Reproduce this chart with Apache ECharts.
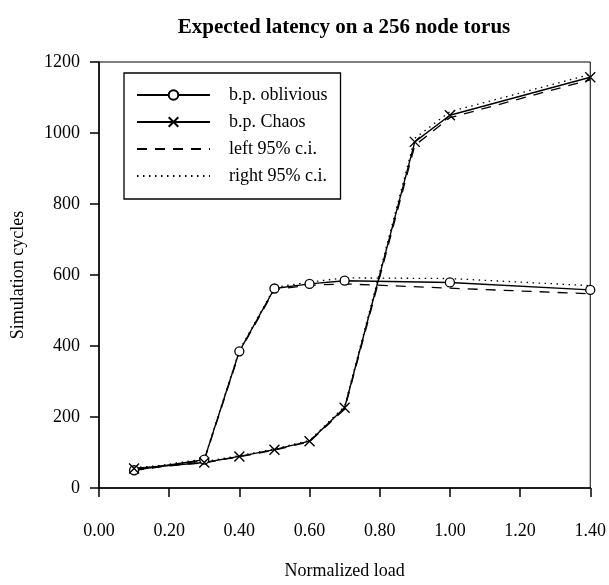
<!DOCTYPE html>
<html>
<head>
<meta charset="utf-8">
<script src="https://cdn.jsdelivr.net/npm/echarts@6/dist/echarts.min.js"></script>
<style>html,body{margin:0;padding:0;background:#fff}#c{width:609px;height:585px}</style>
</head>
<body>
<div id="c"></div>
<script>
var xOblivious = [0.1, 0.3, 0.4, 0.5, 0.6, 0.7, 1.0, 1.4];
var oblivious   = [50, 80, 385, 562, 575, 584, 579, 558];
var obliviousLo = [49, 78, 382, 559, 571, 575, 563, 547];
var obliviousHi = [52, 82, 388, 565, 580, 592, 590, 570];

var xChaos = [0.1, 0.3, 0.4, 0.5, 0.6, 0.7, 0.9, 1.0, 1.4];
var chaos   = [55, 72, 89, 108, 132, 226, 975, 1050, 1157];
var chaosLo = [54, 71, 88, 107, 130, 222, 965, 1043, 1150];
var chaosHi = [57, 74, 91, 110, 134, 230, 985, 1060, 1165];

var seriesNames = ['b.p. oblivious', 'b.p. Chaos', 'left 95% c.i.', 'right 95% c.i.'];
var titleText = 'Expected latency on a 256 node torus';
var xName = 'Normalized load';
var yName = 'Simulation cycles';

function pairs(xs, ys) { return xs.map(function (x, i) { return [x, ys[i]]; }); }

var FONT = "'Liberation Serif', 'Times New Roman', serif";
var chart = echarts.init(document.getElementById('c'), null, {renderer: 'canvas'});

var dashed = {color: '#000', width: 1.3, type: [10, 8]};
var dotted = {color: '#000', width: 1.3, type: [1.5, 4.5]};
var solid = {color: '#000', width: 1.4};
var hidden = {color: 'rgba(0,0,0,0)', borderColor: 'rgba(0,0,0,0)', borderWidth: 0};

chart.setOption({
  animation: false,
  backgroundColor: '#fff',
  title: {
    text: titleText,
    left: 339, textAlign: 'center', top: 12,
    textStyle: {fontFamily: FONT, fontWeight: 'bold', fontSize: 21, color: '#000'}
  },
  grid: {left: 99, right: 17, top: 62, bottom: 91, show: true, borderColor: '#000', borderWidth: 1, backgroundColor: 'transparent'},
  legend: {
    orient: 'vertical', left: 124, top: 73,
    data: [
      {name: seriesNames[0]},
      {name: seriesNames[1]},
      {name: seriesNames[2], itemStyle: hidden},
      {name: seriesNames[3], itemStyle: hidden}
    ],
    itemWidth: 73, itemHeight: 12, itemGap: 9,
    padding: [13, 13, 14, 12],
    borderColor: '#000', borderWidth: 1.3, borderRadius: 0,
    backgroundColor: '#fff',
    selectedMode: false,
    textStyle: {fontFamily: FONT, fontSize: 18, color: '#000', lineHeight: 18, padding: [0, 0, 0, 14]}
  },
  xAxis: {
    type: 'value', min: 0, max: 1.4, interval: 0.2,
    name: xName, nameLocation: 'middle', nameGap: 74,
    nameTextStyle: {fontFamily: FONT, fontSize: 18, color: '#000'},
    axisLine: {onZero: false, lineStyle: {color: '#000', width: 1.5}},
    axisTick: {show: true, inside: false, length: 9, lineStyle: {color: '#000', width: 1.5}},
    axisLabel: {margin: 34, fontFamily: FONT, fontSize: 18, color: '#000', formatter: function (v) { return v.toFixed(2); }},
    splitLine: {show: false}
  },
  yAxis: {
    type: 'value', min: 0, max: 1200, interval: 200,
    name: yName, nameLocation: 'middle', nameGap: 72,
    nameTextStyle: {fontFamily: FONT, fontSize: 18, color: '#000'},
    axisLine: {show: true, lineStyle: {color: '#000', width: 1.5}},
    axisTick: {show: true, inside: false, length: 9, lineStyle: {color: '#000', width: 1.5}},
    axisLabel: {margin: 19, fontFamily: FONT, fontSize: 18, color: '#000', formatter: function (v) { return String(v); }},
    splitLine: {show: false}
  },
  series: [
    {name: seriesNames[2], type: 'line', data: pairs(xOblivious, obliviousLo), symbol: 'none', lineStyle: dashed, itemStyle: {color: '#000'}, z: 2, silent: true},
    {name: seriesNames[2], type: 'line', data: pairs(xChaos, chaosLo), symbol: 'none', lineStyle: dashed, itemStyle: {color: '#000'}, z: 2, silent: true},
    {name: seriesNames[3], type: 'line', data: pairs(xOblivious, obliviousHi), symbol: 'none', lineStyle: dotted, itemStyle: {color: '#000'}, z: 2, silent: true},
    {name: seriesNames[3], type: 'line', data: pairs(xChaos, chaosHi), symbol: 'none', lineStyle: dotted, itemStyle: {color: '#000'}, z: 2, silent: true},
    {name: seriesNames[0], type: 'line', data: pairs(xOblivious, oblivious), symbol: 'circle', symbolSize: 9, showAllSymbol: true,
      lineStyle: solid, itemStyle: {color: '#fff', borderColor: '#000', borderWidth: 1.3}, z: 3, silent: true},
    {name: seriesNames[1], type: 'line', data: pairs(xChaos, chaos), symbol: 'path://M0,0L10,10M10,0L0,10', symbolSize: 10, showAllSymbol: true,
      lineStyle: solid, itemStyle: {color: '#000', borderColor: '#000', borderWidth: 1.4}, z: 3, silent: true}
  ]
});
</script>
</body>
</html>
